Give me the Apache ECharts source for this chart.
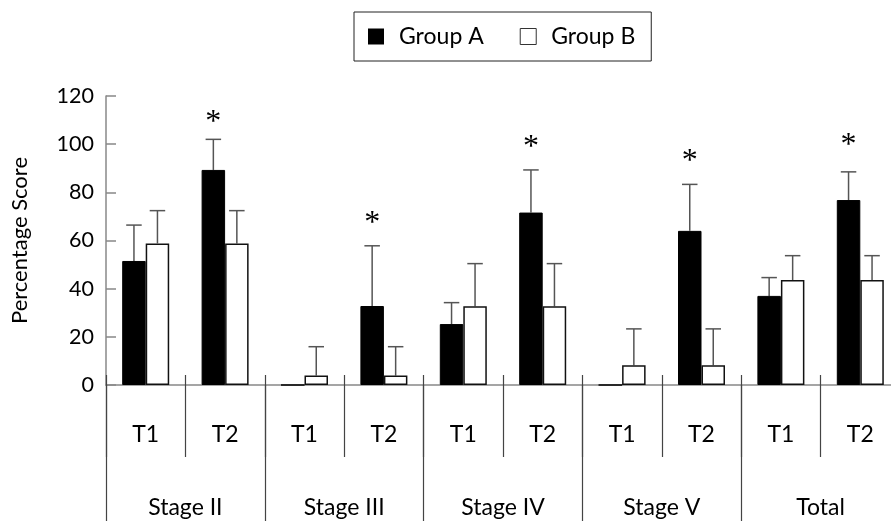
<!DOCTYPE html>
<html><head><meta charset="utf-8">
<script src="https://cdn.jsdelivr.net/npm/echarts@6/dist/echarts.min.js"></script>
<style>html,body{margin:0;padding:0;background:#fff}#c{width:891px;height:521px}</style>
</head><body><div id="c"></div>
<script>
const timeLabels = ['T1','T2','T1','T2','T1','T2','T1','T2','T1','T2'];
const stageLabels = ['Stage II','Stage III','Stage IV','Stage V','Total'];
const groupA = [51.5, 89.3, 0, 32.8, 25.3, 71.6, 0, 64.0, 37.0, 76.8];
const sdA    = [14.9, 12.7, 0, 25.0, 8.9, 17.7, 0, 19.3, 7.6, 11.7];
const groupB = [58.8, 58.8, 3.9, 3.9, 32.7, 32.7, 8.2, 8.2, 43.6, 43.6];
const sdB    = [13.6, 13.6, 12.0, 12.0, 17.7, 17.7, 15.1, 15.1, 10.1, 10.1];
const sigIndex = [1, 3, 5, 7, 9];
const sigY     = [111.4, 69.4, 101.0, 95.4, 101.7];
const yTicks = {min: 0, max: 120, interval: 20};

const BAR_W = 23.5, CAP = 15.5;
const FONT = 'Lato';

function errData(vals, sds){
  return vals.map((v,i)=> sds[i] > 0 ? [i, v, v + sds[i]] : null).filter(d=>d);
}
function errRender(sign){
  return function(params, api){
    const xi = api.value(0);
    const b = api.coord([xi, api.value(1)]);
    const t = api.coord([xi, api.value(2)]);
    const x = b[0] + sign * BAR_W / 2;
    const st = {stroke:'#555', lineWidth:1.5};
    return {type:'group', children:[
      {type:'line', shape:{x1:x, y1:b[1], x2:x, y2:t[1]}, style:st},
      {type:'line', shape:{x1:x-CAP/2, y1:t[1], x2:x+CAP/2, y2:t[1]}, style:st}
    ]};
  };
}

const chart = echarts.init(document.getElementById('c'), null, {renderer:'canvas'});
chart.setOption({
  animation:false,
  backgroundColor:'#fff',
  textStyle:{fontFamily:FONT},
  legend:{
    left:354, top:12, orient:'horizontal',
    borderColor:'#222', borderWidth:1,
    padding:[13,16,13,14],
    itemWidth:16, itemHeight:16, itemGap:36,
    textStyle:{fontFamily:FONT, fontSize:23, color:'#000', padding:[0,0,0,10]},
    data:[
      {name:'Group A', icon:'rect', itemStyle:{color:'#000', borderWidth:0}},
      {name:'Group B', icon:'rect', itemStyle:{color:'#fff', borderColor:'#333', borderWidth:1}}
    ]
  },
  grid:{left:106, top:96, width:794, height:289, containLabel:false, outerBoundsMode:'none'},
  xAxis:[
    {type:'category', data:timeLabels, position:'bottom', boundaryGap:true,
     axisLine:{show:true, lineStyle:{color:'#888', width:1.5}},
     axisTick:{show:true, interval:0, length:72, lineStyle:{color:'#444', width:1.2}},
     axisLabel:{interval:0, margin:38, fontSize:23, color:'#000', fontFamily:FONT}},
    {type:'category', data:stageLabels, position:'bottom', boundaryGap:true,
     axisLine:{show:false},
     axisTick:{show:true, interval:0, length:136, lineStyle:{color:'#444', width:1.2}},
     axisLabel:{interval:0, margin:111, fontSize:23, color:'#000', fontFamily:FONT}},
    {type:'category', data:timeLabels, position:'bottom', boundaryGap:true,
     axisLine:{show:false},
     axisTick:{show:true, inside:true, interval:0, length:10, lineStyle:{color:'#444', width:1.2}},
     axisLabel:{show:false}}
  ],
  yAxis:{
    type:'value', min:yTicks.min, max:yTicks.max, interval:yTicks.interval,
    name:'Percentage Score', nameLocation:'middle', nameGap:75,
    nameTextStyle:{fontSize:22, color:'#000', fontFamily:FONT},
    axisLine:{show:true, lineStyle:{color:'#888', width:1.5}},
    axisTick:{show:true, inside:true, length:10, lineStyle:{color:'#888', width:1.5}},
    axisLabel:{margin:12, fontSize:21.5, color:'#000', fontFamily:FONT},
    splitLine:{show:false}
  },
  series:[
    {name:'Group A', type:'bar', data:groupA, barWidth:BAR_W, barGap:'0%',
     itemStyle:{color:'#000', borderColor:'#000', borderWidth:1}},
    {name:'Group B', type:'bar', data:groupB, barWidth:BAR_W, barGap:'0%',
     itemStyle:{color:'#fff', borderColor:'#111', borderWidth:1.5}},
    {name:'errA', type:'custom', renderItem:errRender(-1), data:errData(groupA, sdA), z:1,
     encode:{x:0, y:[1,2]}},
    {name:'errB', type:'custom', renderItem:errRender(1), data:errData(groupB, sdB), z:1,
     encode:{x:0, y:[1,2]}},
    {name:'sig', type:'custom', data:sigIndex.map((c,i)=>[c, sigY[i]]), encode:{x:0, y:1},
     renderItem:function(params, api){
       const p = api.coord([api.value(0), api.value(1)]);
       return {type:'text', style:{text:'*', x:p[0]-BAR_W/2, y:p[1]+6, textAlign:'center',
         textVerticalAlign:'middle', font:'32px "Liberation Serif"', fill:'#000'}};
     }}
  ]
});
</script></body></html>
